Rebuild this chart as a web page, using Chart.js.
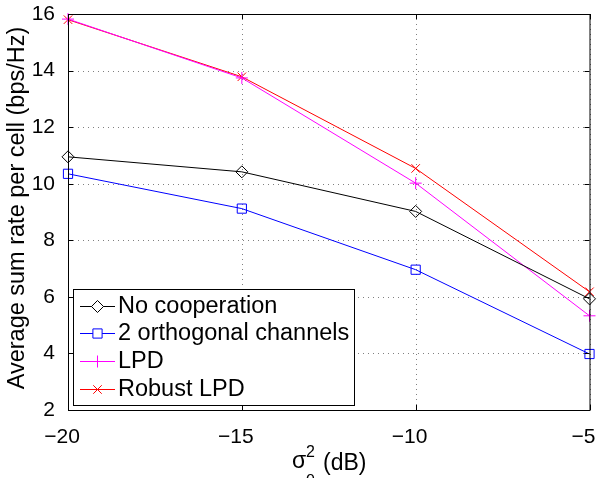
<!DOCTYPE html>
<html>
<head>
<meta charset="utf-8">
<script src="https://cdn.jsdelivr.net/npm/chart.js@4/dist/chart.umd.min.js"></script>
<style>
  body { margin: 0; background: #fff; }
  canvas { display: block; }
</style>
</head>
<body>
<canvas id="myChart" width="597" height="478"></canvas>
<script>
// sigma_e^2 in dB
const xs = [-20, -15, -10, -5];
const noCoop = [10.95, 10.42, 9.02, 5.93];
const orthogonal = [10.35, 9.12, 6.96, 3.98];
const lpd = [15.82, 13.74, 10.02, 5.33];
const robustLpd = [15.80, 13.78, 10.54, 6.18];
const xTicks = [-20, -15, -10, -5];
const yTicks = [2, 4, 6, 8, 10, 12, 14, 16];
const labels = ['No cooperation', '2 orthogonal channels', 'LPD', 'Robust LPD'];
const colors = ['#000000', '#0000ff', '#ff00ff', '#ff0000'];
const styles = ['rectRot', 'rect', 'cross', 'crossRot'];
const radii = [6, 6.5, 6, 6];

const FONT = '"Liberation Sans", Arial, Helvetica, sans-serif';

function pts(ys) {
    return xs.map((x, i) => ({ x: x, y: ys[i] }));
}

function series(i, ys) {
    return {
        label: labels[i],
        data: pts(ys),
        borderColor: colors[i],
        backgroundColor: 'rgba(0,0,0,0)',
        borderWidth: 1,
        pointStyle: styles[i],
        pointRadius: radii[i],
        pointBorderColor: colors[i],
        pointBackgroundColor: 'rgba(0,0,0,0)',
        pointBorderWidth: 1,
        tension: 0,
        clip: false
    };
}

// draws a marker for the legend
function marker(ctx, style, x, y, r, color) {
    ctx.save();
    ctx.setLineDash([]);
    ctx.strokeStyle = color;
    ctx.lineWidth = 1;
    ctx.beginPath();
    if (style === 'rectRot') {
        ctx.moveTo(x, y - r); ctx.lineTo(x + r, y); ctx.lineTo(x, y + r); ctx.lineTo(x - r, y); ctx.closePath();
        ctx.fillStyle = '#fff';
        ctx.fill();
    } else if (style === 'rect') {
        const s = r * Math.SQRT1_2;
        ctx.rect(x - s, y - s, 2 * s, 2 * s);
        ctx.fillStyle = '#fff';
        ctx.fill();
    } else if (style === 'cross') {
        ctx.moveTo(x - r, y); ctx.lineTo(x + r, y);
        ctx.moveTo(x, y - r); ctx.lineTo(x, y + r);
    } else {
        const s = r * Math.SQRT1_2;
        ctx.moveTo(x - s, y - s); ctx.lineTo(x + s, y + s);
        ctx.moveTo(x + s, y - s); ctx.lineTo(x - s, y + s);
    }
    ctx.stroke();
    ctx.restore();
}

// dotted matlab grid, under the lines
const dottedGrid = {
    id: 'dottedGrid',
    beforeDatasetsDraw(chart) {
        const ctx = chart.ctx;
        const a = chart.chartArea;
        const sx = chart.scales.x, sy = chart.scales.y;
        ctx.save();
        ctx.strokeStyle = '#808080';
        ctx.lineWidth = 1;
        ctx.setLineDash([1, 4]);
        ctx.beginPath();
        xTicks.forEach(v => {
            const px = Math.round(sx.getPixelForValue(v)) + 0.5;
            ctx.moveTo(px, a.bottom); ctx.lineTo(px, a.top);
        });
        yTicks.forEach(v => {
            const py = Math.round(sy.getPixelForValue(v)) + 0.5;
            ctx.moveTo(a.left, py); ctx.lineTo(a.right, py);
        });
        ctx.stroke();
        ctx.restore();
    }
};

const frame = {
    id: 'frame',
    afterDraw(chart) {
        const ctx = chart.ctx;
        const a = chart.chartArea;
        const sx = chart.scales.x, sy = chart.scales.y;
        ctx.save();
        ctx.setLineDash([]);
        ctx.strokeStyle = '#000';
        ctx.lineWidth = 1;
        ctx.strokeRect(a.left + 0.5, a.top + 0.5, a.right - a.left, a.bottom - a.top);
        // inward ticks, matlab style
        ctx.beginPath();
        xTicks.forEach(v => {
            const px = Math.round(sx.getPixelForValue(v)) + 0.5;
            ctx.moveTo(px, a.bottom); ctx.lineTo(px, a.bottom - 5);
            ctx.moveTo(px, a.top); ctx.lineTo(px, a.top + 5);
        });
        yTicks.forEach(v => {
            const py = Math.round(sy.getPixelForValue(v)) + 0.5;
            ctx.moveTo(a.left, py); ctx.lineTo(a.left + 5, py);
            ctx.moveTo(a.right, py); ctx.lineTo(a.right - 5, py);
        });
        ctx.stroke();

        // legend box
        const lx = 73, ly = 289, lw = 281, lh = 116;
        ctx.fillStyle = '#fff';
        ctx.fillRect(lx, ly, lw, lh);
        ctx.strokeStyle = '#000';
        ctx.strokeRect(lx + 0.5, ly + 0.5, lw, lh);
        const rows = [306, 333, 361, 389];
        labels.forEach((lab, i) => {
            const y = rows[i];
            ctx.strokeStyle = colors[i];
            ctx.lineWidth = 1;
            ctx.beginPath();
            ctx.moveTo(80, y + 0.5); ctx.lineTo(115, y + 0.5);
            ctx.stroke();
            marker(ctx, styles[i], 97.5, y + 0.5, radii[i], colors[i]);
            ctx.fillStyle = '#000';
            ctx.font = '23.5px ' + FONT;
            ctx.textAlign = 'left';
            ctx.textBaseline = 'middle';
            ctx.fillText(lab, 118, y + 1);
        });

        // y axis title
        ctx.save();
        ctx.translate(18, 208);
        ctx.rotate(-Math.PI / 2);
        ctx.fillStyle = '#000';
        ctx.textAlign = 'center';
        ctx.textBaseline = 'middle';
        ctx.font = '23.5px ' + FONT;
        ctx.fillText('Average sum rate per cell (bps/Hz)', 0, 0);
        ctx.restore();

        // x axis title: sigma_e^2 (dB)
        ctx.fillStyle = '#000';
        ctx.textAlign = 'left';
        ctx.textBaseline = 'alphabetic';
        ctx.font = '23px ' + FONT;
        ctx.fillText('\u03c3', 292, 468);
        ctx.font = '16px ' + FONT;
        ctx.fillText('2', 306, 457);
        ctx.fillText('e', 306, 483);
        ctx.font = '23px ' + FONT;
        ctx.fillText('(dB)', 323, 470);
        ctx.restore();
    }
};

const ctx = document.getElementById('myChart').getContext('2d');
new Chart(ctx, {
    type: 'line',
    data: {
        datasets: [
            series(0, noCoop),
            series(1, orthogonal),
            series(2, lpd),
            series(3, robustLpd)
        ]
    },
    options: {
        responsive: false,
        animation: false,
        layout: { padding: { top: 14, right: 5, left: 0, bottom: 0 } },
        plugins: {
            legend: { display: false },
            tooltip: { enabled: false }
        },
        scales: {
            x: {
                type: 'linear',
                min: -20,
                max: -5,
                afterFit: s => {
                    s.height = 68;
                    s.paddingLeft = 0;
                    s.paddingRight = 0;
                },
                afterBuildTicks: s => { s.ticks = xTicks.map(v => ({ value: v })); },
                ticks: {
                    padding: 7,
                    labelOffset: -6,
                    color: '#000',
                    font: { family: FONT, size: 21 },
                    maxRotation: 0,
                    callback: v => (v < 0 ? '\u2212' + Math.abs(v) : String(v))
                },
                grid: { display: false },
                border: { display: false }
            },
            y: {
                type: 'linear',
                min: 2,
                max: 16,
                afterFit: s => {
                    s.width = 68;
                    s.paddingTop = 0;
                    s.paddingBottom = 0;
                },
                afterBuildTicks: s => { s.ticks = yTicks.map(v => ({ value: v })); },
                ticks: {
                    padding: 5,
                    color: '#000',
                    font: { family: FONT, size: 21 }
                },
                grid: { display: false },
                border: { display: false }
            }
        }
    },
    plugins: [dottedGrid, frame]
});
</script>
</body>
</html>
